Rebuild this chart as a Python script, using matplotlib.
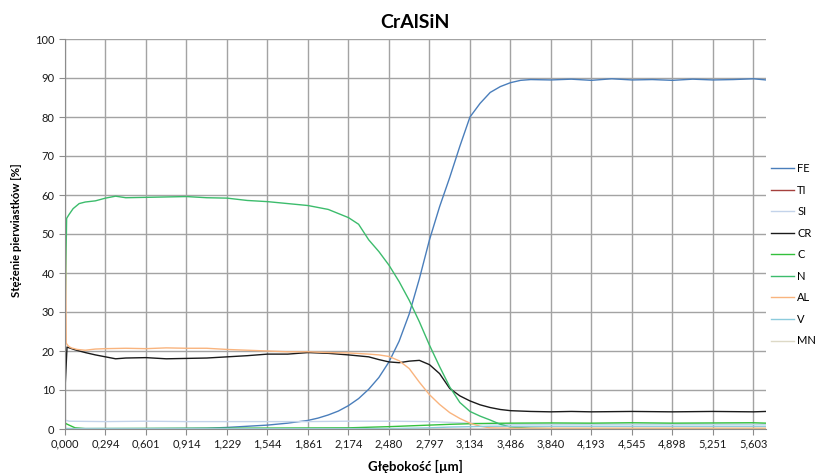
import matplotlib
matplotlib.use('Agg')
import matplotlib.pyplot as plt
from matplotlib.ticker import MultipleLocator

plt.rcParams['font.family'] = ['Lato', 'DejaVu Sans']

# depth labels of the category axis (one label every tick)
depth_labels = ['0,000', '0,294', '0,601', '0,914', '1,229', '1,544', '1,861', '2,174', '2,480',
                '2,797', '3,134', '3,486', '3,840', '4,193', '4,545', '4,898', '5,251', '5,603']
x_end = 17.31

# series, x given in tick units of the category axis
fe_x = [0, 1, 2, 3, 3.5, 4, 4.5, 5, 5.5, 6, 6.25, 6.5, 6.75, 7, 7.25, 7.5, 7.75, 8, 8.25, 8.5,
        8.75, 9, 9.25, 9.5, 9.75, 10, 10.25, 10.5, 10.75, 11, 11.25, 11.5, 12, 12.5, 13, 13.5,
        14, 14.5, 15, 15.5, 16, 16.5, 17, 17.31]
fe_y = [0.1, 0.1, 0.1, 0.15, 0.2, 0.4, 0.7, 1.0, 1.5, 2.2, 2.8, 3.6, 4.6, 6.0, 7.8, 10.2, 13.2,
        17.2, 22.5, 29.5, 38.5, 48.5, 57, 64.5, 72.5, 80, 83.5, 86.3, 87.8, 88.8, 89.4, 89.6,
        89.5, 89.7, 89.4, 89.8, 89.5, 89.6, 89.4, 89.7, 89.5, 89.6, 89.8, 89.5]

ti_x = [0, 17.31]
ti_y = [0.0, 0.0]

si_x = [0, 0.1, 1, 2, 3, 4, 5, 6, 7, 8, 9, 9.5, 10, 10.5, 11, 12, 17.31]
si_y = [2.3, 2.0, 1.9, 2.0, 1.9, 1.9, 1.9, 1.9, 2.0, 2.0, 1.9, 1.7, 1.5, 1.3, 1.2, 1.2, 1.2]

cr_x = [0, 0.05, 0.25, 0.5, 0.75, 1, 1.25, 1.5, 2, 2.5, 3, 3.5, 4, 4.5, 5, 5.5, 6, 6.5, 7, 7.5,
        7.75, 8, 8.25, 8.5, 8.75, 9, 9.25, 9.5, 9.75, 10, 10.25, 10.5, 10.75, 11, 11.5, 12,
        12.5, 13, 14, 15, 16, 17, 17.31]
cr_y = [10.2, 21, 20.3, 19.6, 19.0, 18.5, 18.0, 18.2, 18.3, 18.0, 18.1, 18.2, 18.5, 18.8, 19.2,
        19.2, 19.6, 19.4, 19.0, 18.5, 17.8, 17.2, 17.0, 17.4, 17.6, 16.5, 14.2, 10.4, 8.5, 7.2,
        6.2, 5.5, 5.0, 4.7, 4.5, 4.4, 4.5, 4.4, 4.5, 4.4, 4.5, 4.4, 4.5]

c_x = [0, 0.1, 0.25, 0.5, 7, 8, 8.5, 9, 9.5, 10, 10.5, 11, 12, 13, 14, 15, 16, 17, 17.31]
c_y = [1.5, 1.0, 0.3, 0.1, 0.3, 0.6, 0.8, 1.0, 1.2, 1.35, 1.45, 1.5, 1.55, 1.5, 1.6, 1.5, 1.55,
       1.6, 1.5]

n_x = [0, 0.04, 0.1, 0.2, 0.35, 0.5, 0.75, 1.0, 1.25, 1.5, 2, 2.5, 3, 3.5, 4, 4.5, 5, 5.5, 6,
       6.5, 7, 7.25, 7.5, 7.75, 8, 8.25, 8.5, 8.75, 9, 9.25, 9.5, 9.75, 10, 10.25, 10.5, 10.75,
       11, 11.5, 12, 17.31]
n_y = [27, 54, 55, 56.5, 57.8, 58.2, 58.5, 59.2, 59.7, 59.3, 59.4, 59.5, 59.6, 59.3, 59.2, 58.6,
       58.3, 57.8, 57.3, 56.3, 54.2, 52.5, 48.5, 45.5, 42, 37.8, 33, 27.5, 21.5, 16, 10.8, 6.8,
       4.5, 3.3, 2.3, 1.2, 0.5, 0.2, 0.1, 0.1]

al_x = [0, 0.03, 0.08, 0.15, 0.3, 0.5, 0.75, 1, 1.5, 2, 2.5, 3, 3.5, 4, 4.5, 5, 5.5, 6, 6.5, 7,
        7.5, 7.75, 8, 8.25, 8.5, 8.75, 9, 9.25, 9.5, 9.75, 10, 10.25, 10.5, 11, 17.31]
al_y = [61, 22, 21.3, 20.8, 20.4, 20.2, 20.5, 20.6, 20.7, 20.6, 20.8, 20.7, 20.7, 20.4, 20.2,
        20.0, 19.8, 19.8, 19.6, 19.5, 19.2, 19.0, 18.6, 17.5, 15.5, 12.0, 8.8, 6.3, 4.2, 2.7,
        1.5, 0.7, 0.3, 0.2, 0.2]

v_x = [0, 8, 9, 9.5, 10, 10.5, 11, 17.31]
v_y = [0.1, 0.1, 0.3, 0.5, 0.6, 0.7, 0.7, 0.7]

mn_x = [0, 17.31]
mn_y = [0.05, 0.05]

series = [
    ('FE', fe_x, fe_y, '#4a7ebb'),
    ('TI', ti_x, ti_y, '#a5403d'),
    ('SI', si_x, si_y, '#c3d3ea'),
    ('CR', cr_x, cr_y, '#1a1a1a'),
    ('C', c_x, c_y, '#33c03c'),
    ('N', n_x, n_y, '#3cbc6c'),
    ('AL', al_x, al_y, '#f9b47e'),
    ('V', v_x, v_y, '#8ccbdc'),
    ('MN', mn_x, mn_y, '#ddd9c6'),
]

fig = plt.figure(figsize=(8.18, 4.75), dpi=100)
ax = fig.add_axes([65 / 818, 46 / 475, 701 / 818, 390 / 475])

for name, xs, ys, col in series:
    ax.plot(xs, ys, color=col, lw=1.0, label=name)

ax.set_xlim(0, x_end)
ax.set_ylim(0, 100)
ax.set_xticks(range(len(depth_labels)))
ax.set_xticklabels(depth_labels)
ax.yaxis.set_major_locator(MultipleLocator(10))
ax.grid(True, color='#a3a3a3', lw=1.0)
ax.set_axisbelow(True)
for s in ['top', 'right']:
    ax.spines[s].set_visible(False)
for s in ['left', 'bottom']:
    ax.spines[s].set_color('#8c8c8c')
ax.tick_params(axis='both', length=4, color='#8c8c8c', labelsize=8, labelcolor='#1a1a1a')
ax.tick_params(axis='x', pad=3)

fig.text(415 / 818, 1 - 22 / 475, 'CrAlSiN', ha='center', va='center', fontsize=14,
         fontweight='bold')
fig.text(415 / 818, 1 - 466 / 475, 'Głębokość [µm]', ha='center', va='center', fontsize=9.5,
         fontweight='bold')
fig.text(17 / 818, 1 - 230 / 475, 'Stężenie pierwiastków [%]', ha='center', va='center',
         rotation=90, fontsize=8.2, fontweight='bold')

fig.legend(loc='upper left', bbox_to_anchor=(771 / 818, 1 - 163 / 475), frameon=False,
           fontsize=8, handlelength=2.1, handletextpad=0.25, labelspacing=0.95,
           borderpad=0, borderaxespad=0)

plt.savefig('out.png', dpi=100)
